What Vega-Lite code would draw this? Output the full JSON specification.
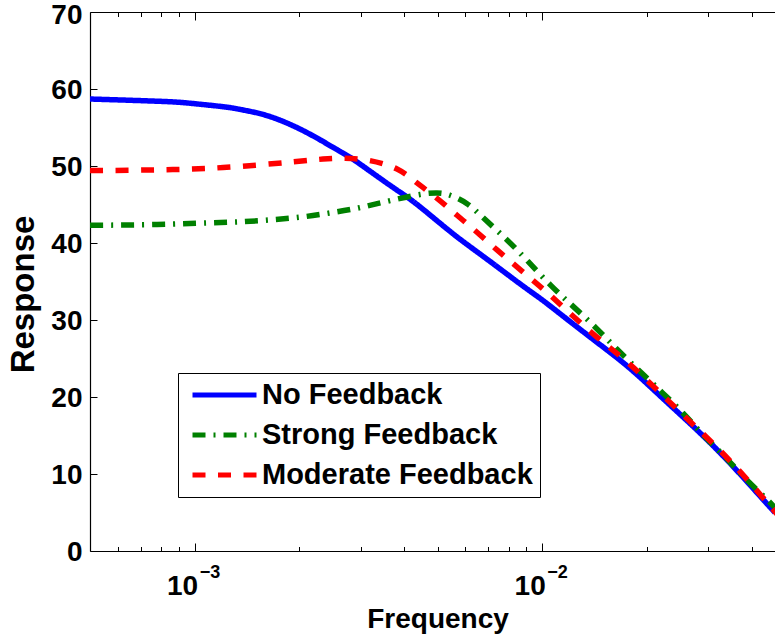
{
  "$schema": "https://vega.github.io/schema/vega-lite/v6.json",
  "autosize": {"type": "none"},
  "padding": {"left": 90, "top": 12, "right": 0, "bottom": 89},
  "width": 685,
  "height": 539,
  "background": "white",
  "config": {
    "view": {"stroke": null},
    "font": "Liberation Sans",
    "axis": {"domainColor": "black", "domainWidth": 1.2, "tickColor": "black", "tickWidth": 1, "labelColor": "black", "titleColor": "black", "labelFont": "Liberation Sans", "titleFont": "Liberation Sans", "labelFontWeight": "bold", "titleFontWeight": "bold", "grid": false}
  },
  "datasets": {
    "curves": [
      {"f": 0.0005, "v": 58.7, "s": "No Feedback"},
      {"f": 0.000795, "v": 58.4, "s": "No Feedback"},
      {"f": 0.00097, "v": 58.15, "s": "No Feedback"},
      {"f": 0.001207, "v": 57.7, "s": "No Feedback"},
      {"f": 0.001351, "v": 57.35, "s": "No Feedback"},
      {"f": 0.001542, "v": 56.8, "s": "No Feedback"},
      {"f": 0.00176, "v": 55.95, "s": "No Feedback"},
      {"f": 0.002009, "v": 54.8, "s": "No Feedback"},
      {"f": 0.002295, "v": 53.4, "s": "No Feedback"},
      {"f": 0.002619, "v": 51.9, "s": "No Feedback"},
      {"f": 0.002893, "v": 50.7, "s": "No Feedback"},
      {"f": 0.003414, "v": 48.4, "s": "No Feedback"},
      {"f": 0.003898, "v": 46.6, "s": "No Feedback"},
      {"f": 0.00445, "v": 44.7, "s": "No Feedback"},
      {"f": 0.005538, "v": 41.2, "s": "No Feedback"},
      {"f": 0.006935, "v": 37.9, "s": "No Feedback"},
      {"f": 0.008628, "v": 34.7, "s": "No Feedback"},
      {"f": 0.01, "v": 32.6, "s": "No Feedback"},
      {"f": 0.01148, "v": 30.5, "s": "No Feedback"},
      {"f": 0.01437, "v": 27.1, "s": "No Feedback"},
      {"f": 0.01789, "v": 23.7, "s": "No Feedback"},
      {"f": 0.02225, "v": 19.8, "s": "No Feedback"},
      {"f": 0.02788, "v": 15.7, "s": "No Feedback"},
      {"f": 0.03469, "v": 11.4, "s": "No Feedback"},
      {"f": 0.04316, "v": 6.7, "s": "No Feedback"},
      {"f": 0.04672, "v": 5.0, "s": "No Feedback"},

      {"f": 0.0005, "v": 42.3, "s": "Strong Feedback"},
      {"f": 0.000779, "v": 42.4, "s": "Strong Feedback"},
      {"f": 0.001085, "v": 42.6, "s": "Strong Feedback"},
      {"f": 0.001351, "v": 42.75, "s": "Strong Feedback"},
      {"f": 0.001647, "v": 43.0, "s": "Strong Feedback"},
      {"f": 0.002009, "v": 43.35, "s": "Strong Feedback"},
      {"f": 0.002451, "v": 43.9, "s": "Strong Feedback"},
      {"f": 0.00299, "v": 44.6, "s": "Strong Feedback"},
      {"f": 0.003648, "v": 45.5, "s": "Strong Feedback"},
      {"f": 0.00445, "v": 46.3, "s": "Strong Feedback"},
      {"f": 0.004981, "v": 46.5, "s": "Strong Feedback"},
      {"f": 0.005429, "v": 46.2, "s": "Strong Feedback"},
      {"f": 0.006075, "v": 45.1, "s": "Strong Feedback"},
      {"f": 0.006754, "v": 43.3, "s": "Strong Feedback"},
      {"f": 0.007918, "v": 40.4, "s": "Strong Feedback"},
      {"f": 0.0091, "v": 37.6, "s": "Strong Feedback"},
      {"f": 0.01053, "v": 34.6, "s": "Strong Feedback"},
      {"f": 0.01218, "v": 31.9, "s": "Strong Feedback"},
      {"f": 0.01418, "v": 29.1, "s": "Strong Feedback"},
      {"f": 0.01641, "v": 26.2, "s": "Strong Feedback"},
      {"f": 0.01911, "v": 23.3, "s": "Strong Feedback"},
      {"f": 0.02211, "v": 20.6, "s": "Strong Feedback"},
      {"f": 0.02541, "v": 17.9, "s": "Strong Feedback"},
      {"f": 0.02901, "v": 15.1, "s": "Strong Feedback"},
      {"f": 0.03356, "v": 12.2, "s": "Strong Feedback"},
      {"f": 0.03882, "v": 9.2, "s": "Strong Feedback"},
      {"f": 0.04521, "v": 6.3, "s": "Strong Feedback"},
      {"f": 0.04672, "v": 5.5, "s": "Strong Feedback"},

      {"f": 0.0005, "v": 49.4, "s": "Moderate Feedback"},
      {"f": 0.000779, "v": 49.5, "s": "Moderate Feedback"},
      {"f": 0.001207, "v": 49.8, "s": "Moderate Feedback"},
      {"f": 0.00188, "v": 50.5, "s": "Moderate Feedback"},
      {"f": 0.00234, "v": 50.9, "s": "Moderate Feedback"},
      {"f": 0.002707, "v": 51.0, "s": "Moderate Feedback"},
      {"f": 0.003194, "v": 50.7, "s": "Moderate Feedback"},
      {"f": 0.003821, "v": 49.6, "s": "Moderate Feedback"},
      {"f": 0.004361, "v": 47.8, "s": "Moderate Feedback"},
      {"f": 0.004981, "v": 45.8, "s": "Moderate Feedback"},
      {"f": 0.005686, "v": 43.6, "s": "Moderate Feedback"},
      {"f": 0.006489, "v": 41.4, "s": "Moderate Feedback"},
      {"f": 0.00741, "v": 39.1, "s": "Moderate Feedback"},
      {"f": 0.008457, "v": 36.9, "s": "Moderate Feedback"},
      {"f": 0.00966, "v": 34.7, "s": "Moderate Feedback"},
      {"f": 0.01103, "v": 32.4, "s": "Moderate Feedback"},
      {"f": 0.014, "v": 28.2, "s": "Moderate Feedback"},
      {"f": 0.01789, "v": 24.2, "s": "Moderate Feedback"},
      {"f": 0.02331, "v": 19.3, "s": "Moderate Feedback"},
      {"f": 0.02979, "v": 14.7, "s": "Moderate Feedback"},
      {"f": 0.03707, "v": 10.3, "s": "Moderate Feedback"},
      {"f": 0.04611, "v": 5.4, "s": "Moderate Feedback"},
      {"f": 0.04672, "v": 5.1, "s": "Moderate Feedback"}
    ],
    "exps": [
      {"f": 0.001, "e": "−3"},
      {"f": 0.01, "e": "−2"}
    ]
  },
  "resolve": {"axis": {"x": "independent", "y": "independent"}},
  "layer": [
    {
      "data": {"name": "curves"},
      "mark": {"type": "line", "strokeWidth": 5.5, "interpolate": "natural", "clip": true, "strokeCap": "butt"},
      "encoding": {
        "x": {
          "field": "f", "type": "quantitative",
          "scale": {"type": "log", "domain": [0.0005, 0.04672], "nice": false},
          "axis": {
            "orient": "bottom",
            "values": [0.0006, 0.0007, 0.0008, 0.0009, 0.001, 0.002, 0.003, 0.004, 0.005, 0.006, 0.007, 0.008, 0.009, 0.01, 0.02, 0.03, 0.04],
            "labelExpr": "datum.value == 0.001 || datum.value == 0.01 ? '10' : ''",
            "tickSize": {"condition": {"test": "datum.value == 0.001 || datum.value == 0.01", "value": -8}, "value": -4.5},
            "labelFontSize": 28,
            "labelAlign": "right",
            "labelOffset": 3,
            "labelPadding": 29,
            "labelFlush": false,
            "labelOverlap": false,
            "title": "Frequency",
            "titleFontSize": 28,
            "titleX": 347.5,
            "titleY": 76,
            "titleBaseline": "alphabetic",
            "titleAnchor": null
          }
        },
        "y": {
          "field": "v", "type": "quantitative",
          "scale": {"domain": [0, 70], "nice": false, "zero": false},
          "axis": {
            "values": [0, 10, 20, 30, 40, 50, 60, 70],
            "tickSize": -7,
            "labelFontSize": 28,
            "labelPadding": 15,
            "labelFlush": false,
            "labelOverlap": false,
            "labelBaseline": "middle",
            "labelOffset": {"condition": {"test": "datum.value == 70", "value": 3}, "value": 1},
            "title": "Response",
            "titleFontSize": 33,
            "titleX": -67,
            "titleY": 282,
            "titleBaseline": "middle",
            "titleAngle": -90
          }
        },
        "color": {
          "field": "s", "type": "nominal",
          "scale": {"domain": ["No Feedback", "Strong Feedback", "Moderate Feedback"], "range": ["#0000ff", "#008000", "#ff0000"]},
          "legend": {
            "title": null, "orient": "none", "legendX": 88, "legendY": 361,
            "strokeColor": "black", "fillColor": "white", "padding": 7,
            "symbolType": "stroke", "symbolSize": 4096, "symbolStrokeWidth": 5,
            "labelFontSize": 29, "labelFont": "Liberation Sans", "labelFontWeight": "bold", "labelColor": "black",
            "rowPadding": 10, "clipHeight": 30, "symbolOffset": 5, "labelOffset": 3, "labelLimit": 0
          }
        },
        "strokeDash": {
          "field": "s", "type": "nominal",
          "scale": {"domain": ["No Feedback", "Strong Feedback", "Moderate Feedback"], "range": [[1, 0], [13, 8, 2, 8], [13, 12.5]]},
          "legend": {
            "title": null, "orient": "none", "legendX": 88, "legendY": 361,
            "strokeColor": "black", "fillColor": "white", "padding": 7,
            "symbolType": "stroke", "symbolSize": 4096, "symbolStrokeWidth": 5,
            "labelFontSize": 29, "labelFont": "Liberation Sans", "labelFontWeight": "bold", "labelColor": "black",
            "rowPadding": 10, "clipHeight": 30, "symbolOffset": 5, "labelOffset": 3, "labelLimit": 0
          }
        }
      }
    },
    {
      "data": {"name": "exps"},
      "mark": {"type": "text", "align": "left", "baseline": "middle", "dx": 5, "dy": 22, "fontSize": 18, "fontWeight": "bold", "font": "Liberation Sans", "color": "black"},
      "encoding": {
        "x": {
          "field": "f", "type": "quantitative",
          "axis": {
            "orient": "top",
            "values": [0.0006, 0.0007, 0.0008, 0.0009, 0.001, 0.002, 0.003, 0.004, 0.005, 0.006, 0.007, 0.008, 0.009, 0.01, 0.02, 0.03, 0.04],
            "labels": false,
            "title": null,
            "tickSize": {"condition": {"test": "datum.value == 0.001 || datum.value == 0.01", "value": -8}, "value": -4.5}
          }
        },
        "y": {"datum": 0, "type": "quantitative", "axis": null},
        "text": {"field": "e"}
      }
    }
  ]
}
